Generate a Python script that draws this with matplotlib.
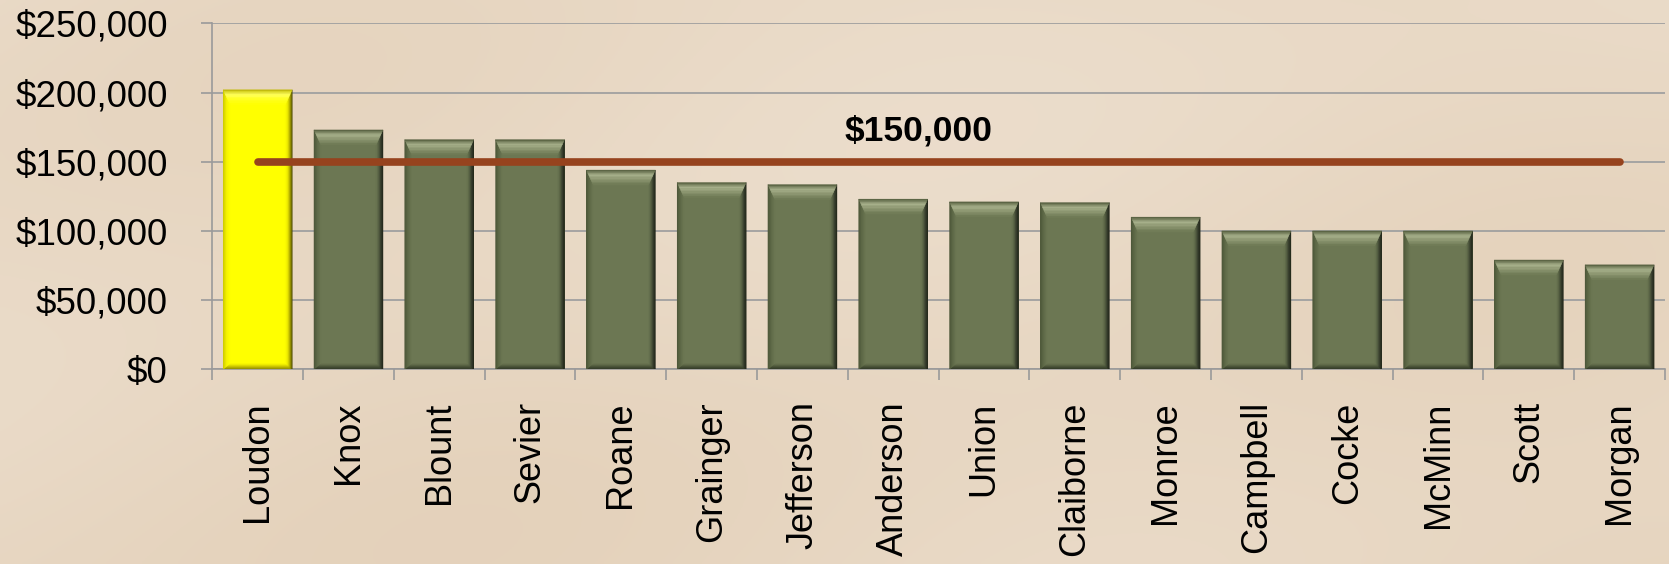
import numpy as np
import matplotlib
matplotlib.use('Agg')
import matplotlib.pyplot as plt
from matplotlib.patches import Polygon
from matplotlib.colors import to_rgb
from matplotlib.ticker import FuncFormatter, FixedLocator

plt.rcParams['font.family'] = ['Liberation Sans', 'DejaVu Sans']

counties = ['Loudon', 'Knox', 'Blount', 'Sevier', 'Roane', 'Grainger', 'Jefferson',
            'Anderson', 'Union', 'Claiborne', 'Monroe', 'Campbell', 'Cocke',
            'McMinn', 'Scott', 'Morgan']
values = [202000, 173000, 166000, 166000, 144000, 135000, 133500, 123000,
          121000, 120500, 110000, 100000, 100000, 100000, 79000, 75500]
highlight = 'Loudon'
threshold = 150000
threshold_label = '$150,000'

W, H = 16.69, 5.64
fig = plt.figure(figsize=(W, H), dpi=100)
fig.patch.set_facecolor('#EADCCA')

# soft parchment background
bg = fig.add_axes([0, 0, 1, 1], zorder=-5)
yy, xx = np.mgrid[0:1:200j, 0:1:600j]
shade = 0.55 + 0.25 * np.sin(xx * 7 + yy * 3) * np.cos(yy * 4 - xx * 2) + 0.2 * yy
c1 = np.array(to_rgb('#EFE3D4'))
c2 = np.array(to_rgb('#DDC6AA'))
img = c1[None, None, :] * (1 - shade[..., None] * 0.6) + c2[None, None, :] * (shade[..., None] * 0.6)
bg.imshow(np.clip(img, 0, 1), aspect='auto', extent=[0, 1, 0, 1])
bg.axis('off')

ax_pos = [0.1272, 0.3452, 0.8704, 0.6133]
ax = fig.add_axes(ax_pos)
ax.patch.set_alpha(0)

x = np.arange(len(counties))
bw = 0.76
ax.set_xlim(-0.5, len(counties) - 0.5)
ax.set_ylim(0, 250000)

# pixel -> data conversions
px_x = (ax.get_xlim()[1] - ax.get_xlim()[0]) / (ax_pos[2] * W * 100)
px_y = (ax.get_ylim()[1] - ax.get_ylim()[0]) / (ax_pos[3] * H * 100)


def strips(ax, outer_a, outer_b, inner_b, inner_a, colors, n=10, z=3):
    cols = [np.array(to_rgb(c)) for c in colors]
    for i in range(n):
        t0, t1 = i / n, (i + 1) / n
        def p(o, inn, t):
            return (o[0] + t * (inn[0] - o[0]), o[1] + t * (inn[1] - o[1]))
        tm = (t0 + t1) / 2 * (len(cols) - 1)
        k = min(int(tm), len(cols) - 2)
        f = tm - k
        c = cols[k] * (1 - f) + cols[k + 1] * f
        poly = Polygon([p(outer_a, inner_a, t0), p(outer_b, inner_b, t0),
                        p(outer_b, inner_b, t1), p(outer_a, inner_a, t1)],
                       closed=True, facecolor=c, edgecolor=c, linewidth=0.3, zorder=z)
        ax.add_patch(poly)


bars = ax.bar(x, values, width=bw, zorder=2,
              color=['#FFFF00' if c == highlight else '#6C7753' for c in counties])

sx = 7 * px_x
ty = 15 * px_y
by = 6 * px_y
for b, c in zip(bars, counties):
    x0 = b.get_x()
    x1 = x0 + b.get_width()
    top = b.get_height()
    if c == highlight:
        top_c = ['#B8B000', '#FFFF60', '#FFFF20', '#FFFF00']
        right_c = ['#3C3A00', '#A09A00', '#E8E400', '#FFFF00']
        left_c = ['#C8C400', '#F4F200', '#FFFF00']
        bot_c = ['#807C00', '#C8C200', '#FFFF00']
    else:
        top_c = ['#4E5838', '#A8B18C', '#8C9670', '#6C7753']
        right_c = ['#1C2014', '#33392A', '#566043', '#6C7753']
        left_c = ['#4A5436', '#5E6947', '#6C7753']
        bot_c = ['#2A3020', '#4A5338', '#6C7753']
    # bottom
    strips(ax, (x0, 0), (x1, 0), (x1 - sx, by), (x0 + sx, by), bot_c)
    # left
    strips(ax, (x0, top), (x0, 0), (x0 + sx, by), (x0 + sx, top - ty), left_c)
    # right
    strips(ax, (x1, top), (x1, 0), (x1 - sx, by), (x1 - sx, top - ty), right_c)
    # top
    strips(ax, (x0, top), (x1, top), (x1 - sx, top - ty), (x0 + sx, top - ty), top_c)

# threshold line
ax.plot([x[0], x[-1]], [threshold, threshold], color='#96431E', linewidth=5.5,
        solid_capstyle='round', zorder=5)
ax.text(7.28, 172000, threshold_label, fontsize=25.5, fontweight='bold',
        ha='center', va='center', zorder=6)

ax.yaxis.set_major_locator(FixedLocator(np.arange(0, 250001, 50000)))
ax.yaxis.set_major_formatter(FuncFormatter(lambda v, p: '${:,.0f}'.format(v)))
ax.set_xticks(x)
ax.set_xticklabels(counties, rotation=90, fontsize=26, va='top', ha='center')
ax.set_xticks(np.arange(-0.5, len(counties), 1), minor=True)
ax.tick_params(axis='x', which='major', length=0, pad=23)
ax.tick_params(axis='x', which='minor', length=8, color='#9A9A9A', width=1.2)
ax.tick_params(axis='y', labelsize=26.5, length=8, color='#9A9A9A', width=1.2, pad=24)
ax.grid(axis='y', color='#A0A0A0', linewidth=1.3, zorder=0)
ax.set_axisbelow(True)
for s in ['top', 'right']:
    ax.spines[s].set_visible(False)
for s in ['left', 'bottom']:
    ax.spines[s].set_color('#9A9A9A')
    ax.spines[s].set_linewidth(1.2)

fig.savefig('out.png', dpi=100, facecolor=fig.get_facecolor())
